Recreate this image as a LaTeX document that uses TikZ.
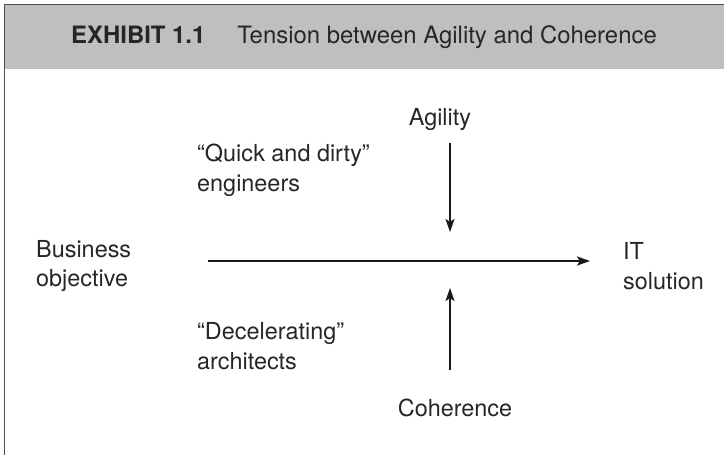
\documentclass[tikz,border=0pt]{standalone}
\usepackage{fontspec}
\setmainfont{TeX Gyre Heros}
\usetikzlibrary{arrows.meta}
\begin{document}
\begin{tikzpicture}[x=1bp,y=-1bp,
  txt/.style={font=\fontsize{23.5}{30}\selectfont, align=left, inner sep=0pt, text=black!85},
  arr/.style={-{Stealth[length=13bp,width=9bp,inset=3bp]}, line width=2bp, black!90}]
\useasboundingbox (0,0) rectangle (724,455);
\fill[black!25] (4.5,5) rectangle (724,69);
\draw[line width=1bp, black!70] (4.5,455) -- (4.5,5) -- (724,5);
\node[txt, font=\fontsize{24}{30}\selectfont, anchor=base] (title) at (364,44) {\textbf{EXHIBIT 1.1}\hspace{32bp}Tension between Agility and Coherence};
\node[txt, anchor=center] (agility) at (440,120) {Agility};
\node[txt, anchor=center] (coherence) at (455,408) {Coherence};
\node[txt, anchor=west] (biz) at (36,266) {Business\\objective};
\node[txt, anchor=west] (it) at (623,266) {IT\\solution};
\node[txt, anchor=west] (quick) at (197,170) {``Quick and dirty''\\engineers};
\node[txt, anchor=west] (decel) at (197,346) {``Decelerating''\\architects};
\coordinate (dtop) at (450,143);
\coordinate (dtip) at (450,232);
\coordinate (hl) at (208,261);
\coordinate (hr) at (590,261);
\coordinate (ubot) at (450,370);
\coordinate (utip) at (450,288);
\draw[arr] (dtop) -- (dtip);
\draw[arr] (ubot) -- (utip);
\draw[arr, line width=2.6bp] (hl) -- (hr);
\end{tikzpicture}
\end{document}
